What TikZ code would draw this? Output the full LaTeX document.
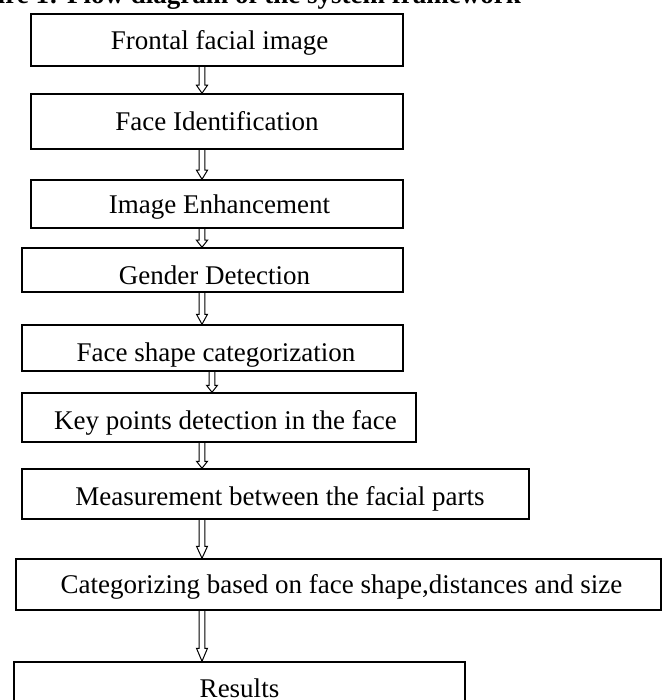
\documentclass[tikz,border=0pt]{standalone}
\usepackage{fontspec}
\setmainfont{Liberation Serif}
\usetikzlibrary{calc}
\tikzset{
  box/.style={draw, line width=1.5pt, inner sep=0pt, font=\fontsize{27pt}{32pt}\selectfont, text height=18pt, text depth=0pt},
  arrline/.style={line width=1pt, line join=miter},
  titlefont/.style={font=\bfseries\fontsize{27pt}{32pt}\selectfont, inner sep=0pt}
}
\newcommand{\flowarr}[4]{%
  \coordinate (fx) at (#3,0);
  \draw[arrline] ($(fx |- #1.south)+(-2.8,0)$) -- ($(fx |- #2.north)+(-2.8,-#4)$) -- ($(fx |- #2.north)+(-5.5,-#4)$) -- (fx |- #2.north) -- ($(fx |- #2.north)+(5.5,-#4)$) -- ($(fx |- #2.north)+(2.8,-#4)$) -- ($(fx |- #1.south)+(2.8,0)$);
}
\begin{document}
\begin{tikzpicture}[x=1pt,y=-1pt]
\useasboundingbox (0,0) rectangle (663,700);
\clip (0,0) rectangle (663,700);
\fill[white] (0,0) rectangle (663,700);
\node[titlefont, anchor=base east] (title) at (521,4) {Figure 1: Flow diagram of the system framework};
\node[box, minimum width=372pt, minimum height=52pt, text height=19pt] (n1) at (217,40) {\hspace*{5pt}Frontal facial image};
\node[box, minimum width=372pt, minimum height=55pt, text height=18.4pt] (n2) at (217,121.5) {Face Identification};
\node[box, minimum width=372pt, minimum height=48pt, text height=20pt] (n3) at (217,204) {\hspace*{5pt}Image Enhancement};
\node[box, minimum width=381pt, minimum height=44pt, text height=29pt] (n4) at (212.5,270) {\hspace*{4pt}Gender Detection};
\node[box, minimum width=381pt, minimum height=46pt, text height=26pt] (n5) at (212.5,348) {\hspace*{7pt}Face shape categorization};
\node[box, minimum width=394pt, minimum height=49pt, text height=23pt] (n6) at (219,417.5) {\hspace*{13pt}Key points detection in the face};
\node[box, minimum width=507pt, minimum height=50pt, text height=23pt] (n7) at (275.5,494) {\hspace*{9pt}Measurement between the facial parts};
\node[box, minimum width=645pt, minimum height=51pt, text height=17pt] (n8) at (338.5,584.5) {\hspace*{6pt}Categorizing based on face shape,distances and size};
\node[box, minimum width=451pt, minimum height=52pt] (n9) at (239.5,688) {Results};
\flowarr{n1}{n2}{202}{8}
\flowarr{n2}{n3}{202}{9}
\flowarr{n3}{n4}{202}{7}
\flowarr{n4}{n5}{202}{10}
\flowarr{n5}{n6}{212}{7}
\flowarr{n6}{n7}{202}{7}
\flowarr{n7}{n8}{202}{12}
\flowarr{n8}{n9}{202}{13}
\end{tikzpicture}
\end{document}
